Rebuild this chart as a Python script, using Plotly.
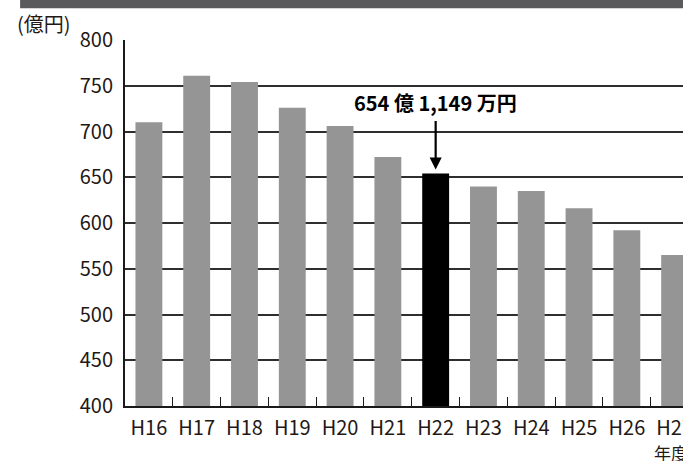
import plotly.graph_objects as go

# Fiscal years (Heisei era) and annual amounts in 億円
years = ["H16", "H17", "H18", "H19", "H20", "H21", "H22", "H23", "H24", "H25", "H26", "H27"]
amounts = [710, 761, 754, 726, 706, 672, 654.1149, 640, 635, 616, 592, 565]

highlight_year = "H22"
highlight_label = "654 億 1,149 万円"

y_ticks = [400, 450, 500, 550, 600, 650, 700, 750, 800]
y_unit = "(億円)"
x_unit = "年度"

FONT = "Noto Sans CJK JP"
BAR_GREY = "#959595"
INK = "#231815"

colors = ["#000000" if y == highlight_year else BAR_GREY for y in years]

fig = go.Figure(
    go.Bar(
        x=years,
        y=amounts,
        marker=dict(color=colors, line=dict(width=0)),
        hoverinfo="x+y",
    )
)

hi_idx = years.index(highlight_year)

fig.update_layout(
    width=683,
    height=461,
    margin=dict(l=125, r=0, t=40, b=55, autoexpand=False),
    paper_bgcolor="white",
    plot_bgcolor="white",
    bargap=0.4375,
    showlegend=False,
    font=dict(family=FONT, size=20, color=INK),
    xaxis=dict(
        type="category",
        range=[-0.5, 11.175],
        automargin=False,
        showline=True,
        linecolor="#1a1a1a",
        linewidth=2,
        ticks="inside",
        tickson="boundaries",
        ticklen=9,
        tickwidth=1.2,
        tickcolor="#1a1a1a",
        showgrid=False,
        tickfont=dict(family=FONT, size=20, color=INK),
        ticklabelstandoff=3,
    ),
    yaxis=dict(
        range=[400, 800],
        tickvals=y_ticks,
        automargin=False,
        showline=True,
        linecolor="#1a1a1a",
        linewidth=2,
        ticks="",
        showgrid=True,
        gridcolor="#2e2e2e",
        gridwidth=1.5,
        zeroline=False,
        tickfont=dict(family=FONT, size=20, color=INK),
        ticklabelstandoff=6,
    ),
    shapes=[
        # dark header band across the top of the page
        dict(
            type="rect", xref="paper", yref="paper",
            x0=-0.188, x1=1.0, y0=1.087, y1=1.11,
            fillcolor="#5a595b", line=dict(width=0), layer="above",
        ),
    ],
    annotations=[
        # callout text for the highlighted year
        dict(
            x=hi_idx, y=amounts[hi_idx], xref="x", yref="y",
            text=highlight_label, showarrow=False,
            yshift=71, xanchor="center", yanchor="middle",
            font=dict(family=FONT, size=20, color="#000000", weight="bold"),
        ),
        # arrow pointing down onto the highlighted bar
        dict(
            x=hi_idx, y=amounts[hi_idx], xref="x", yref="y",
            text="", showarrow=True,
            ax=0, ay=-54, axref="pixel", ayref="pixel",
            arrowhead=2, arrowsize=1.1, arrowwidth=2.2,
            arrowcolor="#000000", standoff=4,
        ),
        # unit label of the value axis
        dict(
            x=-0.145, y=1.044, xref="paper", yref="paper",
            text=y_unit, showarrow=False,
            xanchor="center", yanchor="middle",
            font=dict(family=FONT, size=20, color=INK),
        ),
        # unit label of the category axis
        dict(
            x=0.944, y=-0.126, xref="paper", yref="paper",
            text=x_unit, showarrow=False,
            xanchor="left", yanchor="middle",
            font=dict(family=FONT, size=17, color=INK),
        ),
    ],
)

fig.write_html("out.html")
